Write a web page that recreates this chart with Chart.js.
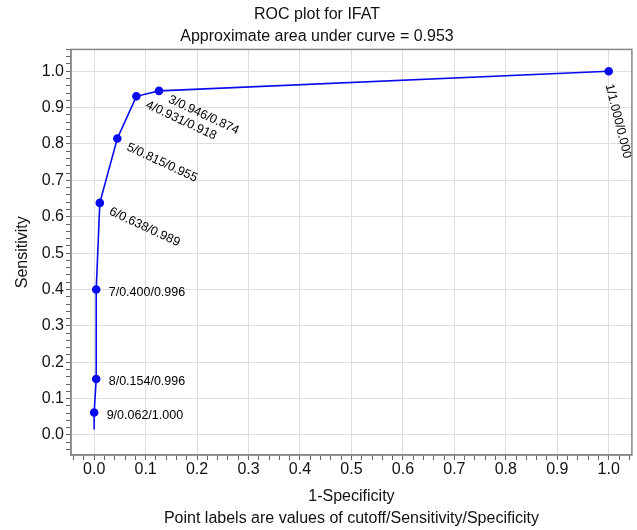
<!DOCTYPE html>
<html>
<head>
<meta charset="utf-8">
<script src="https://cdn.jsdelivr.net/npm/chart.js@4.4.1/dist/chart.umd.min.js"></script>
<style>
  html, body { margin: 0; padding: 0; background: #fff; }
  #wrap { width: 637px; height: 530px; }
</style>
</head>
<body>
<div id="wrap"><canvas id="roc"></canvas></div>
<script>
// ROC data: cutoff / sensitivity / specificity (last row = end of curve, no marker)
var cutoffs     = [1, 3, 4, 5, 6, 7, 8, 9, null];
var sensitivity = [1.000, 0.946, 0.931, 0.815, 0.638, 0.400, 0.154, 0.062, 0.015];
var specificity = [0.000, 0.874, 0.918, 0.955, 0.989, 0.996, 0.996, 1.000, 1.000];
var labelAngles = [76, 25, 25, 25, 25, 0, 0, 0, 0];

var lineBlue = '#0a0aee';
var font = 'Liberation Sans, Arial, sans-serif';

var points = [];
for (var i = 0; i < cutoffs.length; i++) {
  points.push({ x: 1 - specificity[i], y: sensitivity[i] });
}

function isMajor(v) {
  return Math.abs(v * 10 - Math.round(v * 10)) < 1e-6;
}

// ticks every 0.02 (minor), labels + grid every 0.1
function minorTicks(scale) {
  var t = [];
  for (var k = -5; k <= 55; k++) {
    var v = Math.round(k * 2) / 100;
    if (v >= scale.min - 1e-9 && v <= scale.max + 1e-9) t.push({ value: v });
  }
  scale.ticks = t;
}

// box around the plot area
var frame = {
  id: 'frame',
  afterDraw: function (chart) {
    var a = chart.chartArea, c = chart.ctx;
    c.save();
    c.strokeStyle = '#888';
    c.lineWidth = 1.5;
    c.strokeRect(a.left, a.top, a.right - a.left, a.bottom - a.top);
    c.restore();
  }
};

// point labels cutoff/sens/spec
var pointLabels = {
  id: 'pointLabels',
  afterDatasetsDraw: function (chart) {
    var c = chart.ctx, xs = chart.scales.x, ys = chart.scales.y;
    c.save();
    c.font = '12.5px ' + font;
    c.fillStyle = '#000';
    c.textAlign = 'left';
    c.textBaseline = 'middle';
    for (var i = 0; i < cutoffs.length; i++) {
      if (cutoffs[i] === null) continue;
      var txt = cutoffs[i] + '/' + sensitivity[i].toFixed(3) + '/' + specificity[i].toFixed(3);
      c.save();
      c.translate(xs.getPixelForValue(points[i].x), ys.getPixelForValue(points[i].y));
      c.rotate(labelAngles[i] * Math.PI / 180);
      c.fillText(txt, 12.5, 3);
      c.restore();
    }
    c.restore();
  }
};

var ctxRoc = document.getElementById('roc');
var rocChart = new Chart(ctxRoc, {
  type: 'scatter',
  data: {
    datasets: [{
      data: points,
      showLine: true,
      borderColor: lineBlue,
      backgroundColor: lineBlue,
      borderWidth: 1.6,
      pointRadius: function (ctx) { return cutoffs[ctx.dataIndex] === null ? 0 : 3.5; },
      pointHoverRadius: 3.5,
      tension: 0
    }]
  },
  options: {
    responsive: true,
    maintainAspectRatio: false,
    animation: false,
    layout: { padding: { left: 0, right: 3, top: 0, bottom: 0 } },
    plugins: {
      legend: { display: false },
      tooltip: { enabled: false },
      title: {
        display: true,
        text: 'ROC plot for IFAT',
        color: '#111',
        font: { family: font, size: 16, weight: 'normal', lineHeight: 1.2 },
        padding: { top: 5, bottom: 3 }
      },
      subtitle: {
        display: true,
        text: 'Approximate area under curve = 0.953',
        color: '#111',
        font: { family: font, size: 16, weight: 'normal', lineHeight: 1.2 },
        padding: { top: 0, bottom: 3 }
      }
    },
    scales: {
      x: {
        type: 'linear',
        min: -0.045,
        max: 1.045,
        afterBuildTicks: minorTicks,
        afterFit: function (s) { s.height = 75; },
        grid: {
          color: function (c) { return isMajor(c.tick.value) ? '#dedede' : 'rgba(0,0,0,0)'; },
          tickColor: '#666',
          tickLength: 5,
          drawTicks: true
        },
        border: { display: true, color: '#888', width: 1.5 },
        ticks: {
          autoSkip: false,
          maxRotation: 0,
          padding: 0,
          color: '#111',
          font: { family: font, size: 16 },
          callback: function (v) { return isMajor(v) ? v.toFixed(1) : ''; }
        },
        title: {
          display: true,
          text: ['1-Specificity', 'Point labels are values of cutoff/Sensitivity/Specificity'],
          color: '#111',
          font: { family: font, size: 16, lineHeight: 1.4 },
          padding: { top: 0, bottom: 0 }
        }
      },
      y: {
        type: 'linear',
        min: -0.055,
        max: 1.06,
        afterBuildTicks: minorTicks,
        afterFit: function (s) { s.width = 71; },
        grid: {
          color: function (c) { return isMajor(c.tick.value) ? '#dedede' : 'rgba(0,0,0,0)'; },
          tickColor: '#666',
          tickLength: 5,
          drawTicks: true
        },
        border: { display: true, color: '#888', width: 1.5 },
        ticks: {
          autoSkip: false,
          padding: 2,
          color: '#111',
          font: { family: font, size: 16 },
          callback: function (v) { return isMajor(v) ? v.toFixed(1) : ''; }
        },
        title: {
          display: true,
          text: 'Sensitivity',
          color: '#111',
          font: { family: font, size: 16, lineHeight: 1.2 },
          padding: { top: 13, bottom: 0 }
        }
      }
    }
  },
  plugins: [frame, pointLabels]
});
</script>
</body>
</html>
